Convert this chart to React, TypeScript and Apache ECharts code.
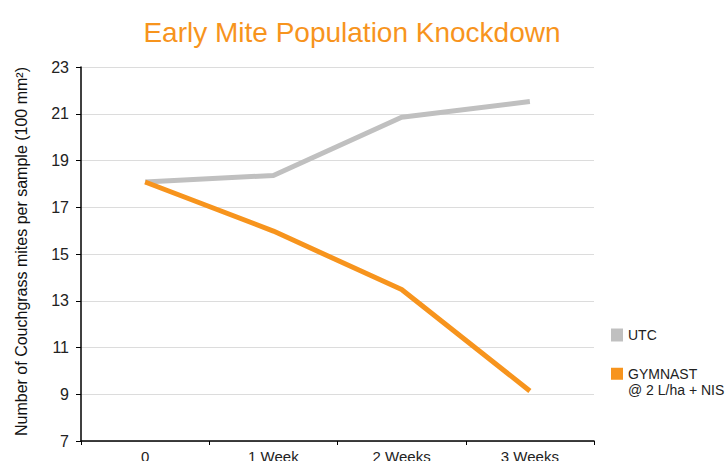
import React, { useEffect, useRef } from "react";
import * as echarts from "echarts";

const categories = ["0", "1 Week", "2 Weeks", "3 Weeks"];
const utcValues = [18.08, 18.36, 20.85, 21.52];
const gymnastValues = [18.08, 15.98, 13.48, 9.14];
const yTicks = { min: 7, max: 23, interval: 2 };

const UTC_NAME = "UTC";
const GYM_NAME = "GYMNAST @ 2 L/ha + NIS";

export default function App() {
  const ref = useRef<HTMLDivElement>(null);
  useEffect(() => {
    if (!ref.current) return;
    const chart = echarts.init(ref.current, undefined, { renderer: "svg" });
    const font = "'Liberation Sans', Arial, sans-serif";
    chart.setOption({
      animation: false,
      title: {
        text: "Early Mite Population Knockdown",
        left: 347,
        textAlign: "center",
        top: 13,
        textStyle: { color: "#f7941d", fontSize: 28, fontWeight: "normal", fontFamily: font },
      },
      grid: { left: 81, top: 67, right: 133, bottom: 20, containLabel: false, outerBoundsMode: "none" },
      legend: [
        {
          data: [UTC_NAME],
          orient: "vertical",
          left: 611,
          top: 328,
          padding: 0,
          itemWidth: 12,
          itemHeight: 13,
          icon: "rect",
          textStyle: { color: "#222", fontSize: 14, fontFamily: font },
        },
        {
          data: [GYM_NAME],
          orient: "vertical",
          left: 611,
          top: 349,
          padding: 0,
          itemWidth: 12,
          itemHeight: 12,
          icon: "rect",
          formatter: () => "\nGYMNAST\n@ 2 L/ha + NIS",
          textStyle: { color: "#222", fontSize: 14, lineHeight: 16.5, fontFamily: font },
        },
      ],
      xAxis: {
        type: "category",
        data: categories,
        boundaryGap: true,
        axisLine: { lineStyle: { color: "#000", width: 1.5 } },
        axisTick: { show: true, length: 4, lineStyle: { color: "#000" } },
        axisLabel: { color: "#222", fontSize: 15, margin: 8, fontFamily: font },
        splitLine: { show: false },
      },
      yAxis: {
        type: "value",
        min: yTicks.min,
        max: yTicks.max,
        interval: yTicks.interval,
        name: "Number of Couchgrass mites per sample (100 mm²)",
        nameLocation: "middle",
        nameGap: 52,
        nameRotate: 90,
        nameTextStyle: { color: "#111", fontSize: 16, fontFamily: font, padding: [0, 0, 0, 5] },
        axisLine: { show: true, lineStyle: { color: "#000", width: 1.5 } },
        axisTick: { show: true, length: 5, lineStyle: { color: "#000" } },
        axisLabel: { color: "#222", fontSize: 16, margin: 12, fontFamily: font },
        splitLine: { show: true, lineStyle: { color: "#dcdcdc", width: 1 } },
      },
      series: [
        {
          name: UTC_NAME,
          type: "line",
          data: utcValues,
          symbol: "none",
          itemStyle: { color: "#c0c0c0" },
          lineStyle: { color: "#c0c0c0", width: 5 },
        },
        {
          name: GYM_NAME,
          type: "line",
          data: gymnastValues,
          symbol: "none",
          itemStyle: { color: "#f7941d" },
          lineStyle: { color: "#f7941d", width: 5 },
        },
      ],
    });
    return () => chart.dispose();
  }, []);
  return <div ref={ref} style={{ width: 727, height: 461, position: "absolute", left: 0, top: 0 }} />;
}
